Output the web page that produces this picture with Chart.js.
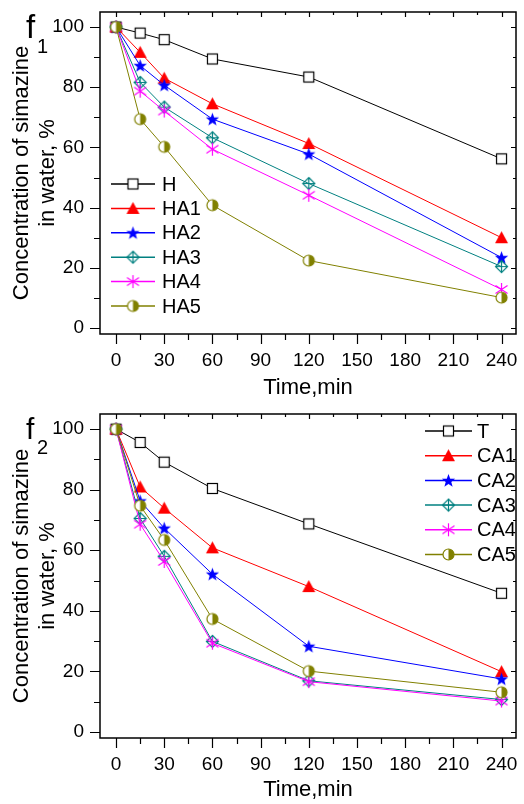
<!DOCTYPE html>
<html>
<head>
    <meta charset="UTF-8">
    <title>Simazine</title>
    <style>
        body {
            margin: 0;
            padding: 0;
            background-color: #fff;
        }
        canvas {
            display: block;
        }
    </style>
</head>
<body>
    <canvas id="chartF1" width="524" height="402"></canvas>
    <canvas id="chartF2" width="524" height="402"></canvas>

    <script src="https://cdn.jsdelivr.net/npm/chart.js"></script>
    <script>
        // datos
        var times = [0, 15, 30, 60, 120, 240];
        var xTicks = [0, 30, 60, 90, 120, 150, 180, 210, 240];
        var yTicks = [0, 20, 40, 60, 80, 100];

        var labelsF1 = ['H', 'HA1', 'HA2', 'HA3', 'HA4', 'HA5'];
        var hVals   = [100, 98.0, 95.8, 89.4, 83.4, 56.2];
        var ha1Vals = [100, 91.6, 83.0, 74.5, 61.3, 30.0];
        var ha2Vals = [100, 87.2, 80.7, 69.4, 57.8, 23.4];
        var ha3Vals = [100, 81.6, 73.4, 63.2, 48.0, 20.4];
        var ha4Vals = [100, 78.7, 72.1, 59.4, 44.1, 12.8];
        var ha5Vals = [100, 69.4, 60.2, 40.8, 22.4, 10.1];

        var labelsF2 = ['T', 'CA1', 'CA2', 'CA3', 'CA4', 'CA5'];
        var tVals   = [100, 95.6, 89.1, 80.4, 68.7, 45.8];
        var ca1Vals = [100, 80.9, 73.9, 60.8, 48.0, 19.9];
        var ca2Vals = [100, 76.3, 67.3, 52.1, 28.3, 17.5];
        var ca3Vals = [100, 70.5, 58.0, 29.9, 16.9, 10.7];
        var ca4Vals = [100, 68.6, 56.3, 29.3, 16.6, 10.2];
        var ca5Vals = [100, 74.7, 63.4, 37.3, 20.1, 13.1];

        var FONT = '"Liberation Sans", Arial, sans-serif';
        var colors = ['#000000', '#ff0000', '#0000ff', '#008080', '#ff00ff', '#808000'];

        // marcadores dibujados en canvas pequeños
        function makeMarker(kind, color) {
            var c = document.createElement('canvas');
            c.width = 15; c.height = 15;
            var g = c.getContext('2d');
            var cx = 7.5, cy = 7.5;
            g.lineWidth = 1.2;
            g.strokeStyle = color;
            g.fillStyle = color;
            if (kind === 'square') {
                g.fillStyle = '#fff';
                g.fillRect(2.5, 2.5, 10, 10);
                g.strokeRect(2.5, 2.5, 10, 10);
            } else if (kind === 'triangle') {
                g.beginPath();
                g.moveTo(cx, 1); g.lineTo(14, 13); g.lineTo(1, 13);
                g.closePath(); g.fill();
            } else if (kind === 'star') {
                g.beginPath();
                for (var i = 0; i < 10; i++) {
                    var r = i % 2 === 0 ? 7 : 2.9;
                    var a = -Math.PI / 2 + i * Math.PI / 5;
                    g.lineTo(cx + r * Math.cos(a), cy + 0.5 + r * Math.sin(a));
                }
                g.closePath(); g.fill();
            } else if (kind === 'diamond') {
                g.beginPath();
                g.moveTo(cx, 1.5); g.lineTo(13.5, cy); g.lineTo(cx, 13.5); g.lineTo(1.5, cy);
                g.closePath(); g.stroke();
                g.beginPath();
                g.moveTo(cx, 1.5); g.lineTo(cx, 13.5);
                g.moveTo(1.5, cy); g.lineTo(13.5, cy);
                g.stroke();
            } else if (kind === 'asterisk') {
                g.beginPath();
                g.moveTo(cx, 1); g.lineTo(cx, 14);
                g.moveTo(cx - 6, cy - 4); g.lineTo(cx + 6, cy + 4);
                g.moveTo(cx + 6, cy - 4); g.lineTo(cx - 6, cy + 4);
                g.stroke();
            } else if (kind === 'halfcircle') {
                g.beginPath();
                g.arc(cx, cy, 5.5, 0, Math.PI * 2);
                g.fillStyle = '#fff'; g.fill();
                g.beginPath();
                g.arc(cx, cy, 5.5, -Math.PI / 2, Math.PI / 2);
                g.closePath();
                g.fillStyle = color; g.fill();
                g.beginPath();
                g.arc(cx, cy, 5.5, 0, Math.PI * 2);
                g.stroke();
            }
            return c;
        }

        var markerKinds = ['square', 'triangle', 'star', 'diamond', 'asterisk', 'halfcircle'];

        function buildDatasets(names, series) {
            return series.map(function(vals, i) {
                return {
                    label: names[i],
                    data: times.map(function(t, j) { return { x: t, y: vals[j] }; }),
                    borderColor: colors[i],
                    backgroundColor: colors[i],
                    borderWidth: 1,
                    pointStyle: makeMarker(markerKinds[i], colors[i]),
                    pointRadius: 7,
                    pointHoverRadius: 7,
                    tension: 0,
                    order: series.length - i
                };
            });
        }

        // marco, marcas de eje, leyenda y letra f
        var framePlugin = {
            id: 'frame',
            beforeDatasetsDraw: function(chart) {
                var ctx = chart.ctx;
                var a = chart.chartArea;
                var xs = chart.scales.x, ys = chart.scales.y;
                ctx.save();
                ctx.strokeStyle = '#000';
                ctx.lineWidth = 1.5;
                ctx.strokeRect(a.left, a.top, a.right - a.left, a.bottom - a.top);
                ctx.lineWidth = 1.2;
                ctx.beginPath();
                for (var i = 0; i < xTicks.length * 2 - 1; i++) {
                    var v = i * 15;
                    var px = Math.round(xs.getPixelForValue(v)) + 0.5;
                    var major = i % 2 === 0;
                    ctx.moveTo(px, a.bottom); ctx.lineTo(px, a.bottom + (major ? 10 : 6));
                    ctx.moveTo(px, a.top); ctx.lineTo(px, a.top + (major ? 5 : 3));
                }
                for (var k = 0; k < yTicks.length * 2 - 1; k++) {
                    var w = k * 10;
                    var py = Math.round(ys.getPixelForValue(w)) + 0.5;
                    var maj = k % 2 === 0;
                    ctx.moveTo(a.left, py); ctx.lineTo(a.left - (maj ? 10 : 6), py);
                    ctx.moveTo(a.right, py); ctx.lineTo(a.right - (maj ? 5 : 3), py);
                }
                ctx.stroke();
                ctx.restore();
            },
            afterDatasetsDraw: function(chart, args, opts) {
                var ctx = chart.ctx;
                ctx.save();
                // letra del panel
                ctx.fillStyle = '#000';
                ctx.textBaseline = 'alphabetic';
                ctx.textAlign = 'left';
                ctx.font = opts.fSize + 'px ' + FONT;
                ctx.fillText('f', opts.fX, opts.fY);
                ctx.font = '20px ' + FONT;
                ctx.fillText(opts.sub, opts.fX + 11, opts.fY + 15);

                // leyenda
                chart.data.datasets.forEach(function(ds, i) {
                    var y = opts.legendY + i * opts.legendGap;
                    ctx.strokeStyle = ds.borderColor;
                    ctx.lineWidth = 1.5;
                    ctx.beginPath();
                    ctx.moveTo(opts.lineX0, y); ctx.lineTo(opts.lineX1, y);
                    ctx.stroke();
                    Chart.helpers.drawPoint(ctx, {
                        pointStyle: ds.pointStyle, radius: 7, rotation: 0, borderWidth: 0
                    }, (opts.lineX0 + opts.lineX1) / 2, y);
                    ctx.fillStyle = '#000';
                    ctx.font = '20px ' + FONT;
                    ctx.textBaseline = 'middle';
                    ctx.fillText(ds.label, opts.textX, y + 1);
                });
                ctx.restore();
            }
        };

        function makeChart(id, names, series, frameOpts, bottomH) {
            var ctx = document.getElementById(id).getContext('2d');
            return new Chart(ctx, {
                type: 'line',
                data: { datasets: buildDatasets(names, series) },
                options: {
                    responsive: false,
                    animation: false,
                    layout: { padding: { top: 12, right: 6, left: 0, bottom: 0 } },
                    plugins: {
                        legend: { display: false },
                        tooltip: { enabled: false },
                        frame: frameOpts
                    },
                    scales: {
                        x: {
                            type: 'linear',
                            min: -10,
                            max: 249,
                            grid: { display: false, drawTicks: false },
                            border: { display: false },
                            afterBuildTicks: function(s) {
                                s.ticks = xTicks.map(function(v) { return { value: v }; });
                            },
                            afterFit: function(s) {
                                s.height = bottomH;
                                s.paddingLeft = 0; s.paddingRight = 0;
                            },
                            ticks: {
                                color: '#000',
                                padding: 15,
                                maxRotation: 0,
                                autoSkip: false,
                                font: { family: FONT, size: 19 }
                            },
                            title: {
                                display: true,
                                text: 'Time,min',
                                color: '#000',
                                padding: { top: 0, bottom: 1 },
                                font: { family: FONT, size: 22 }
                            }
                        },
                        y: {
                            min: -2,
                            max: 105,
                            grid: { display: false, drawTicks: false },
                            border: { display: false },
                            afterBuildTicks: function(s) {
                                s.ticks = yTicks.map(function(v) { return { value: v }; });
                            },
                            afterFit: function(s) {
                                s.width = 100;
                                s.paddingTop = 0; s.paddingBottom = 0;
                            },
                            ticks: {
                                color: '#000',
                                padding: 16,
                                font: { family: FONT, size: 19 }
                            },
                            title: {
                                display: true,
                                text: ['Concentration of simazine', 'in water, %'],
                                color: '#000',
                                padding: { top: 9, bottom: 0 },
                                font: { family: FONT, size: 22, lineHeight: 1.18 }
                            }
                        }
                    }
                },
                plugins: [framePlugin]
            });
        }

        document.addEventListener('DOMContentLoaded', function() {
            makeChart('chartF1', labelsF1,
                [hVals, ha1Vals, ha2Vals, ha3Vals, ha4Vals, ha5Vals],
                { fX: 26, fY: 38, fSize: 33, sub: '1',
                  legendY: 184, legendGap: 24.4, lineX0: 111, lineX1: 155, textX: 162 },
                68);
            makeChart('chartF2', labelsF2,
                [tVals, ca1Vals, ca2Vals, ca3Vals, ca4Vals, ca5Vals],
                { fX: 26, fY: 37, fSize: 30, sub: '2',
                  legendY: 29, legendGap: 24.7, lineX0: 425, lineX1: 472, textX: 477 },
                66);
        });
    </script>
</body>
</html>
